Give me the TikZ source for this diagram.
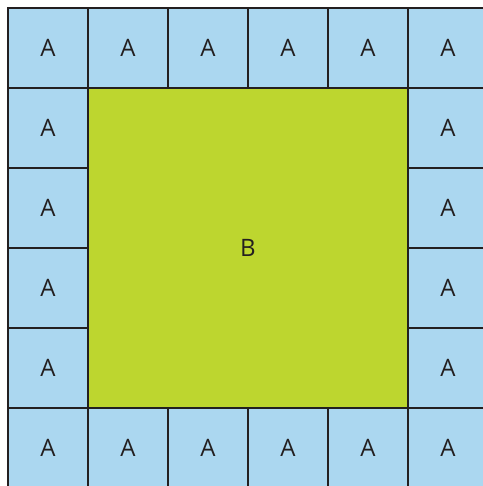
\documentclass[tikz,border=0pt]{standalone}
\usepackage{fontspec}
\setmainfont{Open Sans}
\definecolor{cellblue}{HTML}{ABD7F0}
\definecolor{bgreen}{HTML}{BDD62F}
\definecolor{gridline}{HTML}{231F20}
\begin{document}
\begin{tikzpicture}[x=1pt,y=-1pt,
  acell/.style={draw=gridline,line width=2pt,fill=cellblue,minimum size=80pt,inner sep=0pt,font=\fontsize{24}{24}\selectfont,text=gridline},
  bcell/.style={draw=gridline,line width=2pt,fill=bgreen,minimum size=320pt,inner sep=0pt,font=\fontsize{24}{24}\selectfont,text=gridline}]
\useasboundingbox (0,0) rectangle (482,486);
\fill[white] (0,0) rectangle (482,486);
\foreach \i in {0,...,5}{
  \node[acell] (t\i) at ({48+80*\i},48) {A};
  \node[acell] (b\i) at ({48+80*\i},448) {A};
}
\foreach \j in {1,...,4}{
  \node[acell] (l\j) at (48,{48+80*\j}) {A};
  \node[acell] (r\j) at (448,{48+80*\j}) {A};
}
\node[bcell] (B) at (248,248) {B};
\end{tikzpicture}
\end{document}
